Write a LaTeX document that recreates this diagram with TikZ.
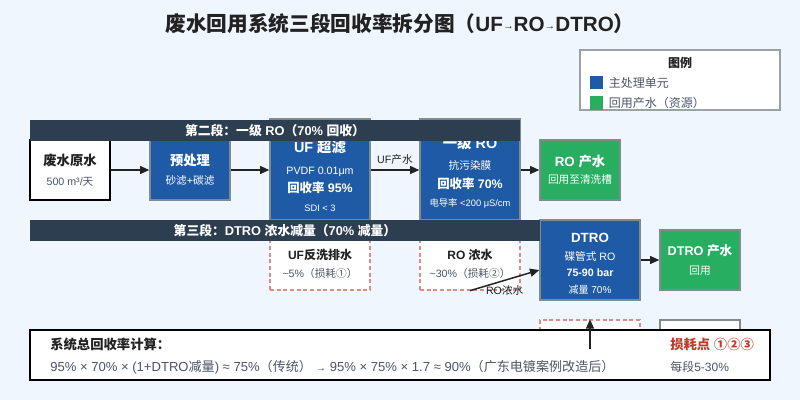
\documentclass[tikz,border=0pt]{standalone}
\usepackage{fontspec}
\setmainfont{Liberation Sans}
\newfontfamily\cjkfont{Noto Sans CJK SC}
\usepackage{xcolor}
\usepackage{tikz}
\usetikzlibrary{arrows.meta, positioning, calc}
\definecolor{bgpage}{HTML}{F0F6FE}
\definecolor{unitblue}{HTML}{1F5AA6}
\definecolor{prodgreen}{HTML}{27AE60}
\definecolor{bandnavy}{HTML}{2C3E50}
\definecolor{lossred}{HTML}{E08A8A}
\definecolor{edgegray}{HTML}{7F8C8D}
\definecolor{lossfont}{HTML}{C0392B}
\definecolor{inkdark}{HTML}{222222}
\definecolor{inksoft}{HTML}{4A5568}

% Chinese characters and full-width punctuation switch to the CJK family
\XeTeXinterchartokenstate=1
\newXeTeXintercharclass\hanclass
\newcount\hanchar
\newcommand\hanrange[2]{%
  \hanchar=#1\relax
  \loop
    \XeTeXcharclass\hanchar=\hanclass
    \ifnum\hanchar<#2\relax \advance\hanchar by 1 \repeat}
\hanrange{"2460}{"24FF}
\hanrange{"3000}{"30FF}
\hanrange{"4E00}{"9FFF}
\hanrange{"FF00}{"FFEF}
\XeTeXinterchartoks 0 \hanclass = {\cjkfont}
\XeTeXinterchartoks 4095 \hanclass = {\cjkfont}
\XeTeXinterchartoks \hanclass 0 = {\rmfamily}
\XeTeXinterchartoks \hanclass 4095 = {\rmfamily}

\begin{document}
\begin{tikzpicture}[
        x=0.75pt, y=-0.75pt,
        unit/.style = {draw=edgegray, fill=unitblue, line width=1pt, text=white, align=center, inner sep=0pt},
        small/.style = {minimum width=60pt, minimum height=45pt},
        tall/.style = {minimum width=75pt, minimum height=75.75pt},
        prod/.style = {unit, small, fill=prodgreen},
        loss/.style = {draw=lossred, dash pattern=on 3pt off 2pt, fill=white, line width=1pt, align=center, inner sep=0pt, minimum width=75pt, minimum height=39pt},
        band/.style = {fill=bandnavy, text=white, font=\fontsize{9.6}{11}\selectfont\bfseries, inner sep=0pt, minimum height=15.75pt},
        flow/.style = {draw=inkdark, -{Triangle[length=7pt, width=6pt]}, line width=1.1pt},
        txt/.style = {align=center, inner sep=0pt}
    ]

        \fill [bgpage] (0,0) rectangle (800,400);

        \node (title) [font=\fontsize{15.5}{18}\selectfont\bfseries, text=inkdark] at (400,24) {废水回用系统三段回收率拆分图（UF\raisebox{1.5pt}{\mdseries\footnotesize →}RO\raisebox{1.5pt}{\mdseries\footnotesize →}DTRO）};

        % legend
        \node (legend) [draw=edgegray!80, fill=white, line width=1.1pt, minimum width=150pt, minimum height=45pt, inner sep=0pt] at (680,80) {};
        \node (legend-head) [font=\small\bfseries, text=inkdark] at (680,63) {图例};
        \node (key-unit) [fill=unitblue, minimum size=9.75pt, inner sep=0pt] at (596.5,82.5) {};
        \node (key-prod) [fill=prodgreen, minimum width=9.75pt, minimum height=10.5pt, inner sep=0pt] at (596.5,103) {};
        \node [right=4pt of key-unit, font=\small, text=inksoft, inner sep=0pt] {主处理单元};
        \node [right=4pt of key-prod, font=\small, text=inksoft, inner sep=0pt] {回用产水（资源）};

        % main line
        \node (raw) [small, draw=black, line width=1.5pt, fill=white, align=center, inner sep=0pt] at (70,170) {{\bfseries\color{inkdark}废水原水}\\[3pt]{\footnotesize\color{inksoft}500 m³/天}};
        \node (pre) [unit, small] at (190,170) {{\bfseries 预处理}\\[2pt]{\footnotesize 砂滤+碳滤}};
        \node (uf) [unit, tall] at (320,169.5) {};
        \node (uf-text) [txt, text=white] at (320,176) {{\fontsize{10.8}{12}\selectfont\bfseries UF 超滤}\\[4pt]{\footnotesize PVDF 0.01μm}\\[2pt]{\fontsize{9.3}{11}\selectfont\bfseries 回收率 95\%}\\[2pt]{\scriptsize SDI < 3}};
        \node (ro) [unit, tall] at (470,169.5) {};
        \node (ro-text) [txt, text=white] at (470,172.5) {{\fontsize{10.8}{12}\selectfont\bfseries 一级 RO}\\[3.5pt]{\footnotesize 抗污染膜}\\[2pt]{\fontsize{9.3}{11}\selectfont\bfseries 回收率 70\%}\\[2pt]{\scriptsize 电导率 <200 μS/cm}};
        \node (roprod) [prod] at (580,170) {{\bfseries RO 产水}\\[1pt]{\footnotesize 回用至清洗槽}};
        \node (dtro) [unit, minimum width=75pt, minimum height=60pt] at (590,260) {};
        \node (dtro-text) [txt, text=white] at (590,263.5) {{\bfseries DTRO}\\[1.5pt]{\footnotesize 碟管式 RO}\\[0.5pt]{\footnotesize\bfseries 75-90 bar}\\[0.5pt]{\fontsize{7.5}{9}\selectfont 减量 70\%}};
        \node (dtroprod) [prod] at (700,260) {{\fontsize{9.5}{11}\selectfont\bfseries DTRO 产水}\\[2pt]{\footnotesize 回用}};

        % losses
        \node (ufloss) [loss] at (320,264) {{\small\bfseries\color{inkdark}UF反洗排水}\\[2pt]{\footnotesize\color{inksoft}\textasciitilde5\%（损耗①）}};
        \node (roloss) [loss] at (470,264) {{\small\bfseries\color{inkdark}RO 浓水}\\[2pt]{\footnotesize\color{inksoft}\textasciitilde30\%（损耗②）}};
        \node (dtroloss) [loss, minimum height=45pt] at (590,350) {};
        \node (spare) [draw=edgegray, fill=white, line width=1pt, small] at (700,350) {};

        % stage banners
        \node (band2) [band, minimum width=367.5pt] at (275,130.5) {第二段：一级 RO（70\% 回收）};
        \node (band3) [band, minimum width=382.5pt] at (285,230.5) {第三段：DTRO 浓水减量（70\% 减量）};

        \draw [flow] (raw) -- (pre);
        \draw [flow] (pre) -- (uf.west |- pre);
        \draw [flow] (uf.east |- pre) -- node[above, font=\footnotesize, text=inkdark] {UF产水} (ro.west |- pre);
        \draw [flow] (ro.east |- roprod) -- (roprod);
        \draw [flow] (dtro) -- (dtroprod);
        \draw [flow] (roloss.south) -- node[below, font=\footnotesize, text=inkdark] {RO浓水} ([yshift=-7.5pt]dtro.west);

        % recovery summary
        \node (calc) [draw=black, line width=1.5pt, fill=white, minimum width=555pt, minimum height=37.5pt, inner sep=0pt] at (400,355) {};
        \node (calc-head) [anchor=west, font=\normalsize\bfseries, text=inkdark, inner sep=0pt] at (50,344) {系统总回收率计算：};
        \node (calc-body) [anchor=west, font=\fontsize{9.8}{12}\selectfont, text=inksoft, inner sep=0pt] at (50,367) {95\% × 70\% × (1+DTRO减量) ≈ 75\%（传统） {\footnotesize →} 95\% × 75\% × 1.7 ≈ 90\%（广东电镀案例改造后）};
        \node (calc-loss) [anchor=west, font=\normalsize\bfseries, text=lossfont, inner sep=0pt] at (670,344) {损耗点 ①②③};
        \node (calc-note) [anchor=west, font=\small, text=inksoft, inner sep=0pt] at (670,367) {每段5-30\%};

        \coordinate (calc-up) at (590,349);
        \draw [flow] (calc-up) -- (dtroloss.north);

    \end{tikzpicture}
\end{document}
